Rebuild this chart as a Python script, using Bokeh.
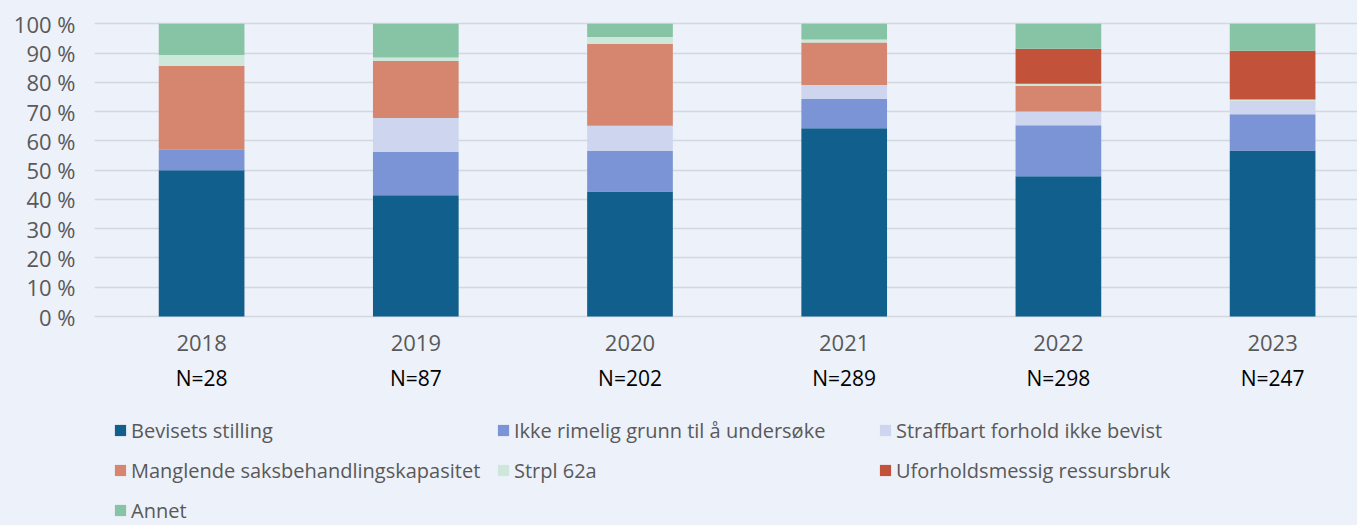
from bokeh.plotting import figure
from bokeh.models import Range1d, FixedTicker, Legend, LegendItem, ColumnDataSource
from bokeh.core.properties import value
from bokeh.embed import file_html
from bokeh.resources import INLINE

# ---- data (percent of cases per year) ----
years = ["2018", "2019", "2020", "2021", "2022", "2023"]
n_labels = ["N=28", "N=87", "N=202", "N=289", "N=298", "N=247"]
series = ["Bevisets stilling", "Ikke rimelig grunn til å undersøke", "Straffbart forhold ikke bevist",
          "Manglende saksbehandlingskapasitet", "Strpl 62a", "Uforholdsmessig ressursbruk", "Annet"]
bevisets = [50.0, 41.4, 42.7, 64.3, 47.9, 56.7]
ikke_rimelig = [7.1, 14.9, 13.8, 10.0, 17.4, 12.4]
straffbart = [0.0, 11.5, 8.7, 4.8, 4.7, 4.6]
manglende = [28.6, 19.5, 28.0, 14.5, 8.8, 0.0]
strpl = [3.6, 1.2, 2.3, 1.0, 0.7, 0.4]
uforholds = [0.0, 0.0, 0.0, 0.0, 12.0, 16.7]
annet = [10.7, 11.5, 4.5, 5.4, 8.5, 9.2]
y_ticks = [0, 10, 20, 30, 40, 50, 60, 70, 80, 90, 100]

colors = ["#115F8D", "#7A94D5", "#CDD6EE", "#D6856F", "#CDE8DA", "#C2533A", "#86C4A5"]
BG = "#EDF1F9"
TXT = "#595959"
FONT = "Open Sans"

# ---- layout constants (pixels) ----
W, H = 1357, 525
TOP_PX, ZERO_PX = 23.3, 316.0          # screen y of 100 % and 0 %
PX_PER_UNIT = (ZERO_PX - TOP_PX) / 100.0
YEAR_OFF_PX, N_OFF_PX = 26.0, 61.0     # label centres below the 0 % line


def px_below_zero(px):
    return -px / PX_PER_UNIT


keys = ["s0", "s1", "s2", "s3", "s4", "s5", "s6"]
xs = list(range(len(years)))
src = ColumnDataSource(dict(x=xs, s0=bevisets, s1=ikke_rimelig, s2=straffbart, s3=manglende,
                            s4=strpl, s5=uforholds, s6=annet))

y_start = px_below_zero(H - ZERO_PX)
y_end = 100 + TOP_PX / PX_PER_UNIT
x_end = -0.5 + (W - 94) / 214.2

p = figure(width=W, height=H, output_backend="svg", toolbar_location=None,
           x_range=Range1d(-0.5, x_end), y_range=Range1d(y_start, y_end),
           x_axis_location=None, min_border=0, min_border_left=94,
           background_fill_color=BG, border_fill_color=BG, outline_line_color=None)

renderers = p.vbar_stack(keys, x="x", width=0.4, color=colors, line_color=None, source=src)

# grid
p.xgrid.grid_line_color = None
p.ygrid.grid_line_color = "#D3D7DE"
p.ygrid.grid_line_width = 1.5
p.ygrid.ticker = FixedTicker(ticks=y_ticks)

# y axis
ya = p.yaxis[0]
ya.ticker = FixedTicker(ticks=y_ticks)
ya.major_label_overrides = {v: f"{v} %" for v in y_ticks}
ya.axis_line_color = None
ya.major_tick_line_color = None
ya.minor_tick_line_color = None
ya.major_tick_out = 0
ya.major_label_standoff = 19
ya.major_label_text_font = FONT
ya.major_label_text_font_size = "22px"
ya.major_label_text_color = TXT

# category labels (years) and N labels
lab_src = ColumnDataSource(dict(x=xs, year=years, n=n_labels,
                                yy=[px_below_zero(YEAR_OFF_PX)] * len(xs),
                                ny=[px_below_zero(N_OFF_PX)] * len(xs)))
p.text(x="x", y="yy", text="year", source=lab_src, text_align="center", text_baseline="middle",
       text_font=value(FONT), text_font_size="22px", text_color=TXT)
p.text(x="x", y="ny", text="n", source=lab_src, text_align="center", text_baseline="middle",
       text_font=value(FONT), text_font_size="21px", text_color="#000000")

# legend: three columns as in the original
cols = [[0, 3, 6], [1, 4], [2, 5]]
col_x = [113 - 94, 496 - 94, 878 - 94]
ITEM_H, GAP = 30, 10
LEG_TOP = 415
for ci, idxs in enumerate(cols):
    items = [LegendItem(label=series[i], renderers=[renderers[i]]) for i in idxs]
    h = len(idxs) * ITEM_H + (len(idxs) - 1) * GAP
    leg = Legend(items=items, location=(col_x[ci], H - LEG_TOP - h), orientation="vertical",
                 glyph_width=14, glyph_height=14, label_standoff=4, spacing=GAP,
                 padding=0, margin=0, border_line_color=None, background_fill_alpha=0,
                 label_text_font=FONT, label_text_font_size="20px", label_text_color=TXT,
                 label_height=ITEM_H)
    p.add_layout(leg, "center")

template = "{% block postamble %}<style>html, body { background-color: #EDF1F9; }</style>{% endblock %}"
open("out.html", "w").write(file_html(p, INLINE, template=template))
